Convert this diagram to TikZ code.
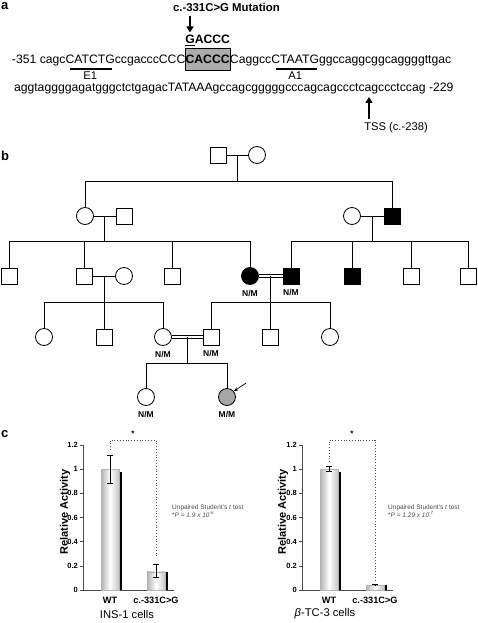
\documentclass[tikz,border=0pt]{standalone}
\usepackage{fontspec}
\setmainfont{Liberation Sans}
\usetikzlibrary{positioning, calc, arrows.meta}

\newcommand{\fsz}[1]{\fontsize{#1}{#1}\selectfont}

\tikzset{
  seq/.style={inner sep=0pt, outer sep=0pt, font=\fsz{12.2}},
  cbox/.style={seq, fill=gray!65, draw, line width=0.6pt, inner xsep=0.3pt,
    text height=16pt, text depth=6pt, font=\bfseries\fsz{12.2}},
  mut/.style={inner sep=0pt, outer sep=0pt, font=\bfseries\fsz{12.2}},
  mlab/.style={inner sep=0pt, font=\fsz{11.2}},
  panel/.style={inner sep=0pt, font=\bfseries\fsz{13}},
  uline/.style={line width=1.6pt},
  bigarrow/.style={line width=1.7pt, -{Triangle[length=6pt, width=7pt]}},
  male/.style={draw, rectangle, minimum size=16pt, inner sep=0pt, line width=0.8pt},
  female/.style={draw, circle, minimum size=17pt, inner sep=0pt, line width=0.8pt},
  affected/.style={fill=black},
  proband/.style={fill=gray!70},
  geno/.style={inner sep=0pt, font=\bfseries\fsz{8.5}},
  sib/.style={line width=0.8pt},
  chartaxis/.style={line width=0.6pt, black!70},
  tick/.style={inner sep=0pt, anchor=east, font=\bfseries\fsz{7.5}},
  ylab/.style={inner sep=0pt, rotate=90, font=\bfseries\fsz{11}},
  cat/.style={inner sep=0pt, font=\bfseries\fsz{9.2}},
  barshade/.style={left color=gray!60, right color=gray!45, middle color=white, draw=gray!60, line width=0.3pt},
  errbar/.style={line width=0.6pt},
  bracket/.style={dotted, line width=0.8pt, black!70},
  signif/.style={inner sep=0pt, font=\bfseries\fsz{8}},
  note/.style={inner sep=0pt, anchor=west, align=left, text=black!70, font=\fsz{6.5}},
  cell/.style={inner sep=0pt, font=\fsz{11.2}}
}

\begin{document}
\begin{tikzpicture}[x=1pt, y=-1pt]
\useasboundingbox (0,0) rectangle (477,623);

% ---- a: promoter sequence
\node[panel, anchor=base west] (pa) at (1,10) {a};
\node[seq, anchor=base west] (s1) at (12,64) {-351 cagc};
\node[seq, anchor=base west] (e1) at (s1.base east) {CATCTG};
\node[seq, anchor=base west] (s2) at (e1.base east) {ccgacccCCC};
\node[cbox, anchor=base west] (cb) at (s2.base east) {CACCC};
\node[seq, anchor=base west] (s3) at (cb.base east) {Caggcc};
\node[seq, anchor=base west] (a1) at (s3.base east) {CTAATG};
\node[seq, anchor=base west] (s4) at (a1.base east) {ggccaggcggcaggggttgac};
\node[seq, anchor=base west] (s5) at (14,92) {aggtaggggagatgggctctgagacTATAAAgccagcgggggcccagcagccctcagccctccag -229};

\draw[uline] ([xshift=4.5pt, yshift=-5pt]e1.base west) -- ([xshift=-2.5pt, yshift=-5pt]e1.base east);
\draw[uline] ([xshift=4.5pt, yshift=-5pt]a1.base west) -- ([xshift=-2.5pt, yshift=-5pt]a1.base east);
\node[mlab, anchor=base] (e1l) at ([yshift=-16pt]e1.base) {E1};
\node[mlab, anchor=base] (a1l) at ([yshift=-16pt]a1.base) {A1};

\node[mut, inner ysep=3pt, anchor=base west] (gsub) at ([yshift=20pt]cb.base west) {\underline{G}ACCC};
\node[mut, font=\bfseries\fsz{11.4}, anchor=base west] (mlbl) at (173,11.5) {c.-331C>G Mutation};
\coordinate (mt) at (190,16);
\draw[bigarrow] (mt) -- (mt |- gsub.north);

\node[mlab, inner ysep=4pt, anchor=base] (tss) at (396,131) {TSS (c.-238)};
\coordinate (tt) at (369,97);
\draw[bigarrow] (tt |- tss.north) -- (tt);

% ---- b: pedigree
\node[panel, anchor=base west] (pb) at (1,160) {b};
% generation I
\node[male] (p1) at (218,155) {};
\node[female] (p2) at (257,155) {};
% generation II
\node[female] (p3) at (85,216) {};
\node[male] (p4) at (124,216) {};
\node[female] (p5) at (352,216) {};
\node[male, affected] (p6) at (392,216) {};
% generation III
\node[male] (p7) at (9,276) {};
\node[male] (p8) at (84,276) {};
\node[female] (p9) at (124,276) {};
\node[male] (p10) at (172,276) {};
\node[female, affected] (p11) at (250,276) {};
\node[male, affected] (p12) at (291,276) {};
\node[male, affected] (p13) at (352,276) {};
\node[male] (p14) at (411,276) {};
\node[male] (p15) at (468,276) {};
% generation IV
\node[female] (p16) at (44,337) {};
\node[male] (p17) at (104,337) {};
\node[female] (p18) at (163,337) {};
\node[male] (p19) at (211,337) {};
\node[male] (p20) at (270,337) {};
\node[female] (p21) at (330,337) {};
% generation V
\node[female] (p22) at (146,397) {};
\node[female, proband] (p23) at (227,397) {};

% couples
\draw[sib] (p1) -- (p2);
\draw[sib] (p3) -- (p4);
\draw[sib] (p5) -- (p6);
\draw[sib] (p8) -- (p9);
\draw[sib, double, double distance=1.8pt] (p11) -- (p12);
\draw[sib, double, double distance=1.8pt] (p18) -- (p19);

% sibships
\coordinate (lv1) at (0,181);
\coordinate (lv2) at (0,241);
\coordinate (lv3) at (0,302);
\coordinate (lv4) at (0,363);
\foreach \a/\b/\l/\f/\t in {p1/p2/lv1/p3/p6, p3/p4/lv2/p7/p11, p5/p6/lv2/p12/p15,
    p8/p9/lv3/p16/p18, p11/p12/lv3/p19/p21, p18/p19/lv4/p22/p23} {
  \coordinate (mid) at ($(\a)!0.5!(\b)$);
  \draw[sib] (mid) -- (mid |- \l);
  \draw[sib] (\f.north |- \l) -- (\t.north |- \l);
}
\foreach \c/\l in {p3/lv1, p6/lv1, p7/lv2, p8/lv2, p10/lv2, p11/lv2, p12/lv2,
    p13/lv2, p14/lv2, p15/lv2, p16/lv3, p17/lv3, p18/lv3, p19/lv3, p20/lv3,
    p21/lv3, p22/lv4, p23/lv4}
  \draw[sib] (\c.north) -- (\c.north |- \l);

% genotypes
\node[geno, below=5pt of p11] (g11) {N/M};
\node[geno, below=5pt of p12] (g12) {N/M};
\node[geno, below=5pt of p18] (g18) {N/M};
\node[geno, below=5pt of p19] (g19) {N/M};
\node[geno, below=5pt of p22] (g22) {N/M};
\node[geno, below=5pt of p23] (g23) {M/M};

% proband
\coordinate (pr) at (246,383);
\draw[-{Stealth[length=4.5pt, width=3.5pt]}, line width=0.7pt] (pr) -- (p23.40);

% ---- c: reporter activity
\node[panel, anchor=base west] (pc) at (1,437) {c};

\begin{scope}[shift={(83,590)}, y=120.8pt]
  \draw[chartaxis] (0,1.2) -- (0,0) -- (91,0);
  \foreach \v [count=\i] in {0,0.2,0.4,0.6,0.8,1,1.2} {
    \draw[chartaxis] (-3,\v) -- (0,\v);
    \node[tick] (ta\i) at (-5,\v) {\v};
  }
  \fill (36,0) rectangle (38.5,0.98);
  \shade[barshade] (18,0) rectangle (36,1);
  \fill (82,0) rectangle (84.5,0.145);
  \shade[barshade] (64,0) rectangle (82,0.15);
  \draw[errbar] (27,0.886) -- (27,1.118) (24,0.886) -- (30,0.886) (24,1.118) -- (30,1.118);
  \draw[errbar] (73,0.108) -- (73,0.215) (70,0.108) -- (76,0.108) (70,0.215) -- (76,0.215);
  \draw[bracket] (27,1.16) -- (27,1.24) -- (73,1.24) -- (73,0.27);
  \node[signif] (sa) at (50,1.29) {*};
  \node[ylab] (ya) at (-18,0.645) {Relative Activity};
  \node[cat] (wa) at (27,-0.085) {WT};
  \node[cat] (ma) at (73,-0.085) {c.-331C>G};
\end{scope}
\node[cell] (ca) at (127,614) {INS-1 cells};
\node[note] (na) at (172,511) {Unpaired Student's \textit{t} test\\*\textit{P} = \textit{1.9 x 10}\textsuperscript{\textit{-6}}};

\begin{scope}[shift={(302,590)}, y=120.8pt]
  \draw[chartaxis] (0,1.2) -- (0,0) -- (91,0);
  \foreach \v [count=\i] in {0,0.2,0.4,0.6,0.8,1,1.2} {
    \draw[chartaxis] (-3,\v) -- (0,\v);
    \node[tick] (tb\i) at (-5,\v) {\v};
  }
  \fill (36,0) rectangle (38.5,0.98);
  \shade[barshade] (18,0) rectangle (36,1);
  \fill (82,0) rectangle (84.5,0.038);
  \shade[barshade] (64,0) rectangle (82,0.04);
  \draw[errbar] (27,0.98) -- (27,1.02) (24,0.98) -- (30,0.98) (24,1.02) -- (30,1.02);
  \draw[errbar] (73,0.035) -- (73,0.046) (70,0.046) -- (76,0.046);
  \draw[bracket] (27,1.06) -- (27,1.24) -- (73,1.24) -- (73,0.08);
  \node[signif] (sb) at (50,1.29) {*};
  \node[ylab] (yb) at (-19,0.645) {Relative Activity};
  \node[cat] (wb) at (27,-0.085) {WT};
  \node[cat] (mb) at (73,-0.085) {c.-331C>G};
\end{scope}
\node[cell] (cc) at (325,614) {{\itshape β}-TC-3 cells};
\node[note] (nb) at (388,511) {Unpaired Student's \textit{t} test\\*\textit{P} = \textit{1.29 x 10}\textsuperscript{\textit{-7}}};

\end{tikzpicture}
\end{document}
